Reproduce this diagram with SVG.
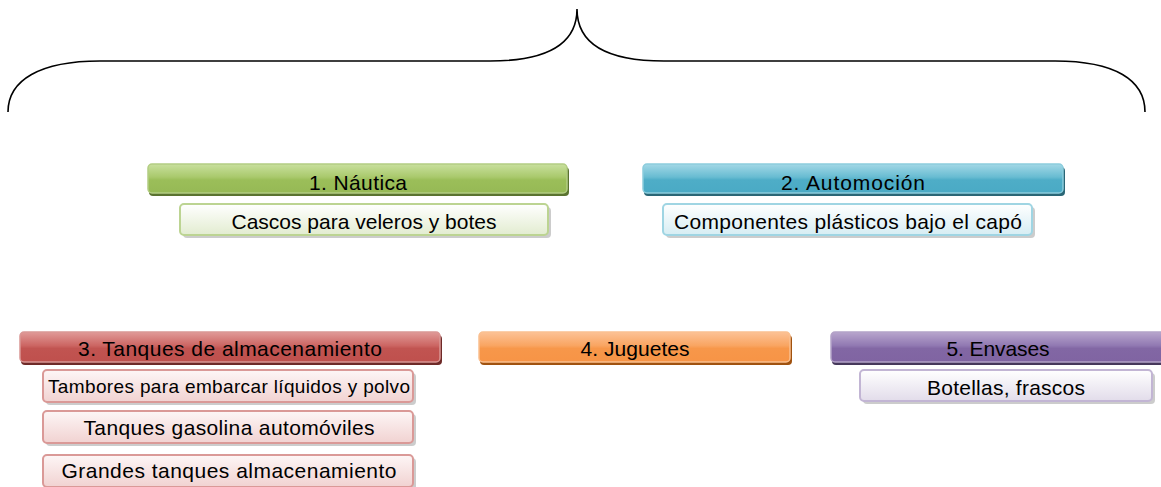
<svg xmlns="http://www.w3.org/2000/svg" width="1161" height="487" viewBox="0 0 1161 487">
<style>
text{font-family:"Liberation Sans",Arial,sans-serif;fill:#000;text-anchor:middle;}
.t{font-size:21px;}
.s{font-size:19px;}
.cs{fill:#000;opacity:0.2;}
</style>
<defs>
<linearGradient id="gG" x1="0" y1="0" x2="0" y2="1"><stop offset="0" stop-color="#c9e09e"/><stop offset="0.45" stop-color="#a9c96c"/><stop offset="0.55" stop-color="#9bbe59"/><stop offset="1" stop-color="#96b955"/></linearGradient>
<linearGradient id="gB" x1="0" y1="0" x2="0" y2="1"><stop offset="0" stop-color="#a3d8e6"/><stop offset="0.45" stop-color="#68bcd2"/><stop offset="0.55" stop-color="#4eadc7"/><stop offset="1" stop-color="#4aaac5"/></linearGradient>
<linearGradient id="gR" x1="0" y1="0" x2="0" y2="1"><stop offset="0" stop-color="#e09a98"/><stop offset="0.45" stop-color="#cc6663"/><stop offset="0.55" stop-color="#c15451"/><stop offset="1" stop-color="#bf504d"/></linearGradient>
<linearGradient id="gO" x1="0" y1="0" x2="0" y2="1"><stop offset="0" stop-color="#fcc296"/><stop offset="0.45" stop-color="#f9a562"/><stop offset="0.55" stop-color="#f7974a"/><stop offset="1" stop-color="#f79446"/></linearGradient>
<linearGradient id="gP" x1="0" y1="0" x2="0" y2="1"><stop offset="0" stop-color="#b8a6cd"/><stop offset="0.45" stop-color="#9179b2"/><stop offset="0.55" stop-color="#8267a4"/><stop offset="1" stop-color="#8064a2"/></linearGradient>
<linearGradient id="lG" x1="0" y1="0" x2="0" y2="1"><stop offset="0" stop-color="#ffffff"/><stop offset="1" stop-color="#e2ecd0"/></linearGradient>
<linearGradient id="lB" x1="0" y1="0" x2="0" y2="1"><stop offset="0" stop-color="#ffffff"/><stop offset="1" stop-color="#d6edf3"/></linearGradient>
<linearGradient id="lR" x1="0" y1="0" x2="0" y2="1"><stop offset="0" stop-color="#fdf6f6"/><stop offset="1" stop-color="#f1d2d1"/></linearGradient>
<linearGradient id="lP" x1="0" y1="0" x2="0" y2="1"><stop offset="0" stop-color="#ffffff"/><stop offset="1" stop-color="#e2dcea"/></linearGradient>
</defs>

<g id="connectors">
<path d="M 8 112 C 8 80, 40 61, 100 61 L 490 61 C 545 61, 577 45, 577 9 C 577 45, 609 61, 664 61 L 1055 61 C 1115 61, 1145 80, 1145 112" fill="none" stroke="#000" stroke-width="1.6"/>
</g>

<g id="n1">
<rect x="149" y="167" width="420" height="29" rx="4" fill="#5a7330"/>
<rect x="148" y="164" width="419" height="29" rx="4" fill="url(#gG)" stroke="#b3cd83" stroke-width="1.5"/>
<text class="t" x="358" y="190" textLength="98">1. Náutica</text>
</g>
<g id="n1c">
<rect x="183" y="207" width="368" height="31" rx="4" class="cs"/>
<rect x="180" y="204" width="368" height="31" rx="4" fill="url(#lG)" stroke="#bcd492" stroke-width="2"/>
<text class="t" x="364" y="229" textLength="265">Cascos para veleros y botes</text>
</g>

<g id="n2">
<rect x="644" y="167" width="421" height="29" rx="4" fill="#2a6676"/>
<rect x="643" y="164" width="420" height="29" rx="4" fill="url(#gB)" stroke="#8ccddd" stroke-width="1.5"/>
<text class="t" x="853" y="190" textLength="144">2. Automoción</text>
</g>
<g id="n2c">
<rect x="666" y="207" width="369" height="31" rx="4" class="cs"/>
<rect x="663" y="204" width="369" height="31" rx="4" fill="url(#lB)" stroke="#9fd5e3" stroke-width="2"/>
<text class="t" x="848" y="229" textLength="348">Componentes plásticos bajo el capó</text>
</g>

<g id="n3">
<rect x="21" y="335" width="421" height="30" rx="4" fill="#6e2a28"/>
<rect x="20" y="332" width="420" height="30" rx="4" fill="url(#gR)" stroke="#d99694" stroke-width="1.5"/>
<text class="t" x="230" y="356" textLength="304">3. Tanques de almacenamiento</text>
</g>
<g id="n3a">
<rect x="46" y="373" width="370" height="32" rx="4" class="cs"/>
<rect x="43" y="370" width="370" height="32" rx="4" fill="url(#lR)" stroke="#da9997" stroke-width="2"/>
<text class="s" x="229" y="393" textLength="362">Tambores para embarcar líquidos y polvo</text>
</g>
<g id="n3b">
<rect x="46" y="414" width="370" height="32" rx="4" class="cs"/>
<rect x="43" y="411" width="370" height="32" rx="4" fill="url(#lR)" stroke="#da9997" stroke-width="2"/>
<text class="t" x="229" y="435" textLength="291">Tanques gasolina automóviles</text>
</g>
<g id="n3c">
<rect x="46" y="458" width="370" height="32" rx="4" class="cs"/>
<rect x="43" y="455" width="370" height="32" rx="4" fill="url(#lR)" stroke="#da9997" stroke-width="2"/>
<text class="t" x="229" y="478" textLength="335">Grandes tanques almacenamiento</text>
</g>

<g id="n4">
<rect x="480" y="335" width="312" height="30" rx="4" fill="#a0520f"/>
<rect x="479" y="332" width="311" height="30" rx="4" fill="url(#gO)" stroke="#fac090" stroke-width="1.5"/>
<text class="t" x="635" y="356" textLength="109">4. Juguetes</text>
</g>

<g id="n5">
<rect x="832" y="335" width="340" height="30" rx="4" fill="#46385b"/>
<rect x="831" y="332" width="340" height="30" rx="4" fill="url(#gP)" stroke="#b3a2c7" stroke-width="1.5"/>
<text class="t" x="998" y="356" textLength="103">5. Envases</text>
</g>
<g id="n5c">
<rect x="863" y="373" width="292" height="31" rx="4" class="cs"/>
<rect x="860" y="370" width="292" height="31" rx="4" fill="url(#lP)" stroke="#c2b5d4" stroke-width="2"/>
<text class="t" x="1006" y="395" textLength="158">Botellas, frascos</text>
</g>
</svg>
